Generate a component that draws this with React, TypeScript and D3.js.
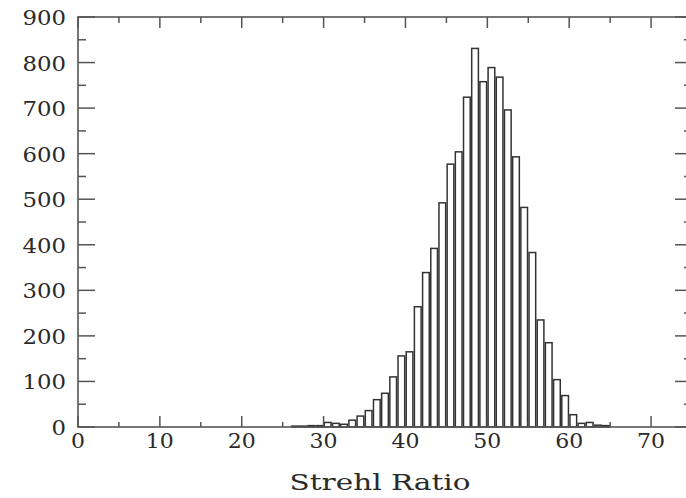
import React from "react";
import * as d3 from "d3";

const binStarts = [26, 27, 28, 29, 30, 31, 32, 33, 34, 35, 36, 37, 38, 39, 40, 41, 42, 43, 44, 45, 46, 47, 48, 49, 50, 51, 52, 53, 54, 55, 56, 57, 58, 59, 60, 61, 62, 63, 64];
const counts = [2, 2, 3, 3, 10, 8, 6, 15, 24, 36, 60, 74, 110, 156, 165, 264, 339, 392, 492, 577, 604, 724, 831, 758, 789, 768, 696, 593, 482, 383, 235, 185, 104, 69, 27, 8, 10, 4, 3];
const xMajorTicks = [0, 10, 20, 30, 40, 50, 60, 70];
const xMinorTicks = [5, 15, 25, 35, 45, 55, 65];
const yMajorTicks = [0, 100, 200, 300, 400, 500, 600, 700, 800, 900];
const yMinorTicks = [50, 150, 250, 350, 450, 550, 650, 750, 850];
const binWidth = 1;
const xLabel = "Strehl Ratio";

export default function App() {
  const W = 686, H = 498;
  const left = 78, right = 692, top = 17, bottom = 427;
  const x = d3.scaleLinear().domain([0, 75]).range([left, right]);
  const y = d3.scaleLinear().domain([0, 900]).range([bottom, top]);
  const axisColor = "#555";
  const textColor = "#2a2a2a";
  const font = "'DejaVu Serif', serif";
  return (
    <svg width={W} height={H} style={{ position: "absolute", left: 0, top: 0, background: "#fff" }}>
      <g>
        {binStarts.map((b, i) => {
          const x0 = x(b) + 0.75;
          const x1 = x(b + binWidth) - 0.75;
          const yt = y(counts[i]);
          return (
            <rect key={b} x={x0} y={yt} width={x1 - x0} height={bottom - yt}
              fill="#fff" stroke="#333" strokeWidth={1.5} />
          );
        })}
      </g>
      <rect x={left} y={top} width={right - left} height={bottom - top} fill="none" stroke={axisColor} strokeWidth={1.6} />
      {xMajorTicks.map(t => (
        <g key={"xM" + t}>
          <line x1={x(t)} x2={x(t)} y1={bottom} y2={bottom - 11} stroke={axisColor} strokeWidth={1.5} />
          <line x1={x(t)} x2={x(t)} y1={top} y2={top + 11} stroke={axisColor} strokeWidth={1.5} />
          <text x={x(t)} y={448} textAnchor="middle" fontFamily={font} fontSize={20} fill={textColor}
            textLength={String(t).length * 14} lengthAdjust="spacingAndGlyphs">{t}</text>
        </g>
      ))}
      {xMinorTicks.map(t => (
        <g key={"xm" + t}>
          <line x1={x(t)} x2={x(t)} y1={bottom} y2={bottom - 5} stroke={axisColor} strokeWidth={1.5} />
          <line x1={x(t)} x2={x(t)} y1={top} y2={top + 6} stroke={axisColor} strokeWidth={1.5} />
        </g>
      ))}
      {yMajorTicks.map(t => (
        <g key={"yM" + t}>
          <line x1={left} x2={left + 17} y1={y(t)} y2={y(t)} stroke={axisColor} strokeWidth={1.5} />
          <line x1={right} x2={right - 17} y1={y(t)} y2={y(t)} stroke={axisColor} strokeWidth={1.5} />
          <text x={66} y={y(t) + 8} textAnchor="end" fontFamily={font} fontSize={20} fill={textColor}
            textLength={String(t).length * 14.5} lengthAdjust="spacingAndGlyphs">{t}</text>
        </g>
      ))}
      {yMinorTicks.map(t => (
        <g key={"ym" + t}>
          <line x1={left} x2={left + 8} y1={y(t)} y2={y(t)} stroke={axisColor} strokeWidth={1.5} />
          <line x1={right} x2={right - 8} y1={y(t)} y2={y(t)} stroke={axisColor} strokeWidth={1.5} />
        </g>
      ))}
      <text x={380} y={490} textAnchor="middle" fontFamily={font} fontSize={22} fill={textColor}
        textLength={181} lengthAdjust="spacingAndGlyphs">{xLabel}</text>
    </svg>
  );
}
